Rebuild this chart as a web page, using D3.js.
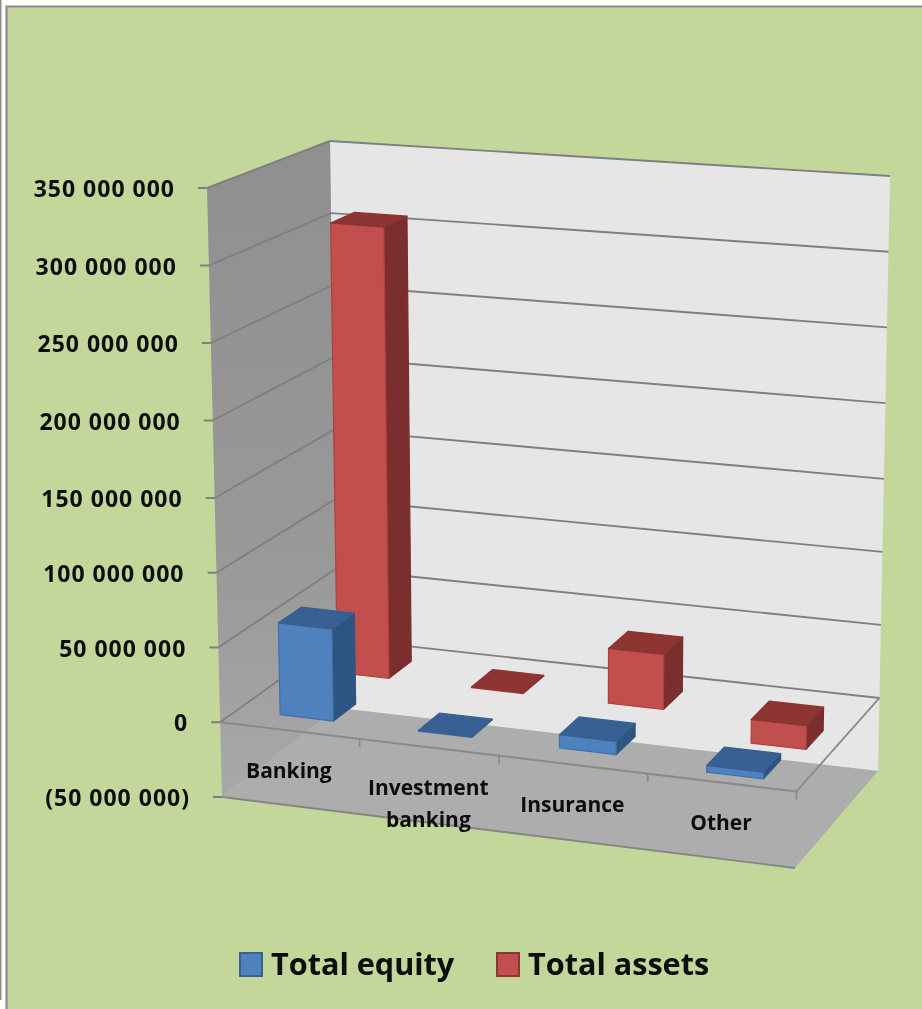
<!DOCTYPE html>
<html><head><meta charset="utf-8">
<script src="https://cdn.jsdelivr.net/npm/d3@7/dist/d3.min.js"></script>
<style>html,body{margin:0;padding:0;background:#fff}svg{display:block}text{font-family:"Open Sans",sans-serif;font-weight:700;fill:#0d0d0d}</style>
</head><body><script>
const categories = [["Banking"],["Investment","banking"],["Insurance"],["Other"]];
const seriesNames = ["Total equity","Total assets"];
const totalEquity = [62000000, 500000, 8800000, -4400000];
const totalAssets = [308000000, 500000, 37500000, -16000000];
const tickValues = [-50000000,0,50000000,100000000,150000000,200000000,250000000,300000000,350000000];
const tickLabels = ["(50 000 000)","0","50 000 000","100 000 000","150 000 000","200 000 000","250 000 000","300 000 000","350 000 000"];

const W=922,H=1009;
const svg=d3.select("body").append("svg").attr("width",W).attr("height",H);
const defs=svg.append("defs");
defs.append("filter").attr("id","soft").attr("x","-5%").attr("y","-5%").attr("width","110%").attr("height","110%")
  .append("feGaussianBlur").attr("stdDeviation",0.45);
const g0=defs.append("linearGradient").attr("id","wall").attr("x1",0).attr("x2",0).attr("y1",0).attr("y2",1);
g0.append("stop").attr("offset","0%").attr("stop-color","#8f8f8f");
g0.append("stop").attr("offset","65%").attr("stop-color","#999999");
g0.append("stop").attr("offset","100%").attr("stop-color","#a9a9a9");

// background and page frame
svg.append("rect").attr("width",W).attr("height",H).attr("fill","#fff");
svg.append("rect").attr("x",6).attr("y",6).attr("width",W-6).attr("height",H-6).attr("fill","#c4d79b");
svg.append("path").attr("d",`M6.5,${H} V6.5 H${W}`).attr("fill","none").attr("stroke","#8c8c8c").attr("stroke-width",2.2);
svg.append("line").attr("x1",0.5).attr("x2",0.5).attr("y1",0).attr("y2",1000).attr("stroke","#8c8c8c").attr("stroke-width",2);

const root=svg.append("g").attr("filter","url(#soft)");

// projection box corners
const BOX={fl0:[222,797],fr0:[795,868],bl0:[338,708],br0:[878,771],
           fl1:[207,188],fr1:[806,245],bl1:[330,141],br1:[890,176]};
const lerp=(a,b,t)=>[a[0]+(b[0]-a[0])*t,a[1]+(b[1]-a[1])*t];
const uWarp=d3.scaleLinear().domain([0,0.5,1]).range([0,0.484,1]);
const vScale=d3.scaleLinear().domain([-50000000,150000000,350000000]).range([0,0.491,1]);
const catScale=d3.scaleBand().domain(d3.range(categories.length)).range([0,1]).paddingInner(0.615).paddingOuter(0.3075);
const depthScale=d3.scaleBand().domain([0,1]).range([0,1]).paddingInner(0.6).paddingOuter(0.3);
function P(u,d,val){
  const uu=uWarp(u),v=vScale(val);
  const bot=lerp(lerp(BOX.fl0,BOX.fr0,uu),lerp(BOX.bl0,BOX.br0,uu),d);
  const top=lerp(lerp(BOX.fl1,BOX.fr1,uu),lerp(BOX.bl1,BOX.br1,uu),d);
  return lerp(bot,top,v);
}
const poly=pts=>"M"+pts.map(p=>p[0].toFixed(2)+","+p[1].toFixed(2)).join("L")+"Z";
const seg=(a,b,stroke,w)=>root.append("line").attr("x1",a[0]).attr("y1",a[1]).attr("x2",b[0]).attr("y2",b[1]).attr("stroke",stroke).attr("stroke-width",w);
const vMin=tickValues[0],vMax=tickValues[tickValues.length-1];

// walls and floor
root.append("path").attr("d",poly([P(0,1,vMin),P(1,1,vMin),P(1,1,vMax),P(0,1,vMax)])).attr("fill","#e6e6e6");
root.append("path").attr("d",poly([P(0,0,vMin),P(0,1,vMin),P(0,1,vMax),P(0,0,vMax)])).attr("fill","url(#wall)");
root.append("path").attr("d",poly([P(0,0,vMin),P(1,0,vMin),P(1,1,vMin),P(0,1,vMin)])).attr("fill","#adadad");

// gridlines
const gridCol="#7f7f7f";
tickValues.forEach(t=>{
  if(t!==vMin){
    seg(P(0,0,t),P(0,1,t),gridCol,1.9);
    seg(P(0,1,t),P(1,1,t),gridCol,1.9);
  }
  const a=P(0,0,t);
  seg([a[0]-9,a[1]],a,gridCol,2);
});
// floor front edge
seg(P(0,0,vMin),P(1,0,vMin),"#858585",1.9);
// zero plane outline and category ticks
seg(P(0,0,0),P(1,0,0),"#8a8a8a",2);
seg(P(1,0,0),P(1,1,0),"#8a8a8a",1.8);
d3.range(1,categories.length+1).forEach(i=>{
  const a=P(i/categories.length,0,0);
  seg(a,[a[0],a[1]+8],"#8a8a8a",1.8);
});

// bars
const colors=[{front:"#4f81bd",top:"#376092",side:"#2f5582",edge:"#3f70ab"},
              {front:"#c0504d",top:"#8c3432",side:"#7a2f2d",edge:"#b2403d"}];
function bar(catIdx,serIdx,val){
  const u0=catScale(catIdx),u1=u0+catScale.bandwidth();
  const d0=depthScale(serIdx),d1=d0+depthScale.bandwidth();
  const c=colors[serIdx];
  const hi=Math.max(val,0),lo=Math.min(val,0);
  const face=(pts,fill,edge)=>root.append("path").attr("d",poly(pts)).attr("fill",fill).attr("stroke",edge).attr("stroke-width",1.2).attr("stroke-linejoin","round");
  face([P(u1,d0,lo),P(u1,d1,lo),P(u1,d1,hi),P(u1,d0,hi)],c.side,c.side);
  face([P(u0,d0,lo),P(u1,d0,lo),P(u1,d0,hi),P(u0,d0,hi)],c.front,c.edge);
  face([P(u0,d0,hi),P(u1,d0,hi),P(u1,d1,hi),P(u0,d1,hi)],c.top,c.top);
}
totalAssets.forEach((v,i)=>bar(i,1,v));
totalEquity.forEach((v,i)=>bar(i,0,v));

// value labels
tickValues.forEach((t,i)=>{
  const a=P(0,0,t);
  root.append("text").attr("x",a[0]-32).attr("y",a[1]+3).attr("text-anchor","end").attr("dominant-baseline","middle")
    .attr("font-size",23).attr("letter-spacing",1).text(tickLabels[i]);
});
// category labels
categories.forEach((lines,i)=>{
  const a=P((i+0.5)/categories.length,0,0);
  lines.forEach((ln,j)=>{
    root.append("text").attr("x",a[0]-1).attr("y",a[1]+42+j*32).attr("text-anchor","middle").attr("dominant-baseline","middle")
      .attr("font-size",21).text(ln);
  });
});
// legend
const legendX=[240,497];
seriesNames.forEach((s,i)=>{
  root.append("rect").attr("x",legendX[i]).attr("y",953).attr("width",22).attr("height",23)
    .attr("fill",colors[i].front).attr("stroke",i?"#8c3432":"#376092").attr("stroke-width",2);
  root.append("text").attr("x",legendX[i]+31).attr("y",975).attr("font-size",30.6).text(s);
});
</script></body></html>
